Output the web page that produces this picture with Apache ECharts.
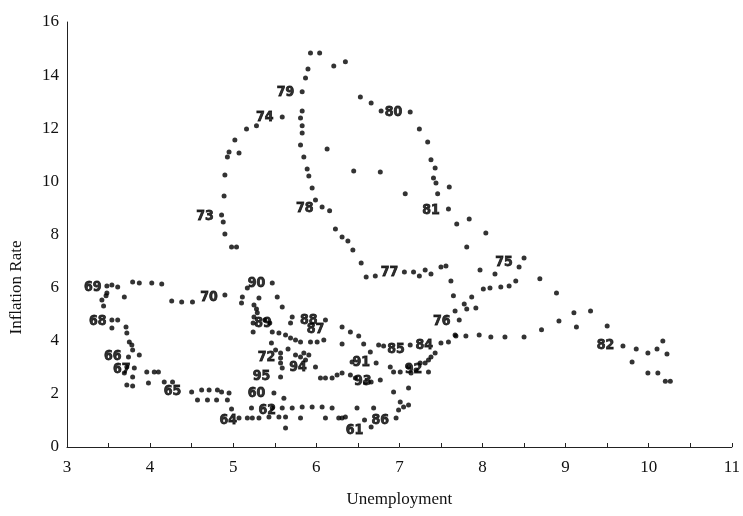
<!DOCTYPE html>
<html>
<head>
<meta charset="utf-8">
<script src="https://cdn.jsdelivr.net/npm/echarts@6/dist/echarts.min.js"></script>
<style>
  html, body { margin: 0; padding: 0; background: #fff; }
  #chart { width: 743px; height: 516px; }
</style>
</head>
<body>
<div id="chart"></div>
<script>
// points, [unemployment, inflation]
var sixties = [
  [3.48,6.06],[3.54,6.10],[3.61,6.02],[3.79,6.21],[3.87,6.17],[4.02,6.17],[4.14,6.14],
  [4.26,5.50],[4.38,5.46],[4.51,5.46],[4.90,5.72],[5.10,5.42],[5.17,5.99],
  [3.48,5.80],[3.47,5.69],[3.42,5.53],[3.44,5.31],[3.69,5.65],
  [3.54,4.78],[3.61,4.78],[3.54,4.48],[3.71,4.52],[3.72,4.29],[3.75,3.95],[3.78,3.84],
  [3.79,3.65],[3.87,3.46],[3.74,3.39],[3.72,3.01],[3.69,2.79],[3.79,2.64],[3.81,2.97],
  [3.96,2.82],[4.05,2.82],[4.10,2.82],[3.72,2.33],[3.79,2.30],[3.98,2.41],[4.17,2.45],
  [4.27,2.45],[4.50,2.07],[4.62,2.15],[4.71,2.15],[4.81,2.15],[4.86,2.07],
  [4.57,1.77],[4.69,1.77],[4.80,1.77],[4.93,1.77],[4.95,2.03],[4.98,1.43],[5.07,1.09],[5.17,1.09]
];
var lowBand = [
  [5.23,1.09],[5.31,1.09],[5.43,1.13],[5.55,1.13],[5.63,1.13],[5.81,1.09],[6.11,1.09],
  [6.27,1.09],[5.63,0.72],[5.22,1.47],[5.47,1.47],[5.59,1.47],[5.71,1.47],[5.83,1.51],
  [5.95,1.51],[6.07,1.51],[6.19,1.47],[6.49,1.47],[6.69,1.47],[5.49,2.03],[5.61,1.84],
  [6.31,1.09],[6.35,1.13],[6.58,1.02],[6.66,0.75],[6.96,1.09],[6.99,1.39],[7.01,1.69],
  [7.05,1.51],[7.11,1.58],[6.93,2.07],[7.11,2.22]
];
var midLeft = [
  [5.47,6.17],[5.11,5.65],[5.31,5.61],[5.53,5.65],[5.59,5.27],[5.25,5.35],[5.28,5.20],
  [5.29,5.05],[5.25,4.89],[5.24,4.67],[5.24,4.33],[5.38,4.78],[5.44,4.67],[5.71,4.89],
  [5.69,4.67],[6.11,4.78],[5.47,4.33],[5.55,4.29],[5.63,4.22],[5.69,4.10],[5.75,4.03],
  [5.81,3.95],[5.93,3.95],[6.01,3.95],[6.09,4.03],[5.46,3.92],[5.51,3.65],[5.57,3.54],
  [5.66,3.69],[5.75,3.46],[5.85,3.54],[5.91,3.46],[5.99,3.01],[5.57,3.35],[5.57,3.16],
  [5.59,2.97],[5.57,2.64],[5.81,3.39],[5.87,3.28],[6.05,2.60],[6.11,2.60],[6.19,2.60],
  [6.25,2.71],[6.31,2.79]
];
var midRight = [
  [6.31,4.52],[6.41,4.33],[6.51,4.18],[6.31,3.88],[6.57,3.88],[6.65,3.58],[6.75,3.84],
  [6.81,3.80],[7.13,3.84],[7.50,3.92],[7.59,3.95],[7.67,4.22],[7.43,3.54],[7.38,3.39],
  [7.35,3.28],[7.31,3.16],[6.43,3.20],[6.72,3.16],[6.41,2.71],[6.47,2.60],[6.59,2.45],
  [6.66,2.45],[6.77,2.52],[6.89,3.01],[6.93,2.82],[7.01,2.82],[7.11,3.01],[7.14,2.79],
  [7.20,2.90],[7.25,3.16],[7.35,2.82]
];
var upperLoop = [
  [5.93,14.83],[6.04,14.83],[6.21,14.34],[6.35,14.50],[5.90,14.23],[5.87,13.89],[5.83,13.37],
  [6.53,13.18],[6.66,12.95],[6.78,12.65],[7.13,12.61],[7.24,11.97],[7.34,11.48],[7.38,10.81],
  [7.43,10.50],[7.41,10.13],[7.44,9.94],[7.60,9.79],[7.46,9.53],[7.59,8.96],[7.69,8.40],
  [7.84,8.58],[8.04,8.06],[7.81,7.53],[5.59,12.42],[5.83,12.65],[5.81,12.39],[5.83,12.09],
  [5.83,11.82],[5.81,11.37],[5.85,10.92],[5.89,10.47],[5.91,10.20],[5.95,9.75],[5.99,9.30],
  [5.28,12.09],[5.16,11.97],[5.02,11.56],[4.95,11.11],[4.93,10.92],[5.07,11.07],[4.90,10.24],
  [4.89,9.45],[4.86,8.73],[4.88,8.47],[4.90,8.02],[4.98,7.53],[5.04,7.53],
  [6.13,11.22],[6.45,10.39],[6.77,10.35],[7.07,9.53],[6.07,9.04],[6.16,8.89],[6.23,8.21],
  [6.31,7.91],[6.38,7.76],[6.44,7.42],[6.54,6.93],[6.60,6.40],[6.71,6.44]
];
var rightTail = [
  [7.06,6.59],[7.17,6.59],[7.24,6.44],[7.31,6.66],[7.38,6.51],[7.50,6.78],[7.56,6.81],
  [7.62,6.25],[7.65,5.69],[7.67,5.12],[7.78,5.38],[7.87,5.65],[7.92,5.23],[7.81,5.20],
  [7.72,4.78],[7.97,6.66],[8.15,6.51],[8.44,6.78],[8.50,7.12],[8.01,5.95],[8.09,5.99],
  [8.22,6.02],[8.32,6.06],[8.40,6.25],[8.69,6.33],[8.89,5.80],[9.10,5.05],[9.30,5.12],
  [9.50,4.56],[9.13,4.52],[8.92,4.74],[8.71,4.41],[7.68,4.18],[7.80,4.18],[7.96,4.22],
  [8.10,4.14],[8.27,4.14],[8.50,4.14],[9.69,3.80],[9.85,3.69],[9.99,3.54],[10.10,3.69],
  [10.17,3.99],[10.22,3.50],[9.80,3.20],[9.99,2.79],[10.11,2.79],[10.20,2.48],[10.26,2.48]
];

// year labels and where they sit
var years    = ['69','70','68','66','67','65','64','60','62','61','86','90','89','88','87','72','95','94','91','93','85','84','92','76','77','75','73','74','79','80','78','81','82'];
var yearUnem = [3.31,4.71,3.37,3.55,3.66,4.27,4.94,5.28,5.41,6.46,6.77,5.28,5.36,5.91,5.99,5.40,5.34,5.78,6.54,6.56,6.96,7.30,7.17,7.51,6.88,8.26,4.66,5.38,5.63,6.93,5.86,7.38,9.48];
var yearInfl = [6.02,5.65,4.74,3.43,2.94,2.11,1.02,2.03,1.39,0.64,1.02,6.17,4.67,4.78,4.44,3.39,2.67,3.01,3.20,2.48,3.69,3.84,2.94,4.74,6.59,6.97,8.70,12.42,13.37,12.58,9.00,8.92,3.84];

var xTicks = [3,4,5,6,7,8,9,10,11];
var yTicks = [0,2,4,6,8,10,12,14,16];

var allDots = [].concat(sixties, lowBand, midLeft, midRight, upperLoop, rightTail);
var yearPoints = years.map(function (y, i) { return [yearUnem[i], yearInfl[i], y]; });

var myChart = echarts.init(document.getElementById('chart'));
var serif = "'Liberation Serif', 'DejaVu Serif', serif";

var option = {
    backgroundColor: '#ffffff',
    animation: false,
    grid: { left: 67, right: 8, top: 22, bottom: 69 },
    xAxis: {
        type: 'value',
        min: xTicks[0],
        max: xTicks[xTicks.length - 1],
        interval: 1,
        name: 'Unemployment',
        nameLocation: 'middle',
        nameGap: 44,
        nameTextStyle: { fontFamily: serif, fontSize: 17, color: '#111' },
        axisLine: { show: true, onZero: false, lineStyle: { color: '#222', width: 1 } },
        axisTick: { show: true, inside: true, length: 4, lineStyle: { color: '#222' } },
        minorTick: { show: true, splitNumber: 2, length: 4, lineStyle: { color: '#222' } },
        axisLabel: { fontFamily: serif, fontSize: 17, color: '#111', margin: 12 },
        splitLine: { show: false }
    },
    yAxis: {
        type: 'value',
        min: yTicks[0],
        max: yTicks[yTicks.length - 1],
        interval: 2,
        name: 'Inflation Rate',
        nameLocation: 'middle',
        nameGap: 42,
        nameTextStyle: { fontFamily: serif, fontSize: 17, color: '#111', padding: [0, 106, 0, 0] },
        axisLine: { show: true, onZero: false, lineStyle: { color: '#222', width: 1 } },
        axisTick: { show: false },
        axisLabel: { fontFamily: serif, fontSize: 17, color: '#111', margin: 8 },
        splitLine: { show: false }
    },
    series: [
        {
            name: 'months',
            type: 'scatter',
            symbolSize: 5,
            itemStyle: { color: '#000' },
            data: allDots
        },
        {
            name: 'years',
            type: 'scatter',
            symbolSize: 0,
            data: yearPoints,
            label: {
                show: true,
                position: 'inside',
                formatter: function (p) { return p.data[2]; },
                fontFamily: "'Liberation Sans Narrow', 'DejaVu Sans Condensed', 'DejaVu Sans', sans-serif",
                fontWeight: 'bold',
                fontSize: 14,
                color: '#000',
                textBorderColor: '#000',
                textBorderWidth: 0.8
            }
        }
    ]
};

myChart.setOption(option);
window.addEventListener("resize", function () {
    myChart.resize();
});
</script>
</body>
</html>
